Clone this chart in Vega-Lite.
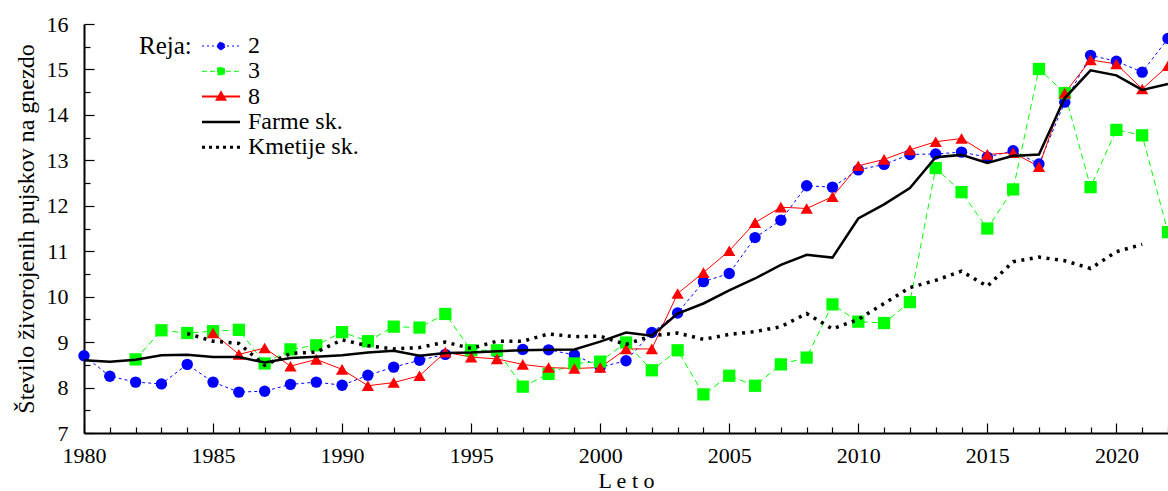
{
  "$schema": "https://vega.github.io/schema/vega-lite/v6.json",
  "width": 1084,
  "height": 409,
  "autosize": {"type": "none"},
  "padding": {"left": 84, "top": 24, "right": 0, "bottom": 58},
  "background": "white",
  "config": {
    "view": {"stroke": null},
    "font": "Liberation Serif, 'Times New Roman', Times, serif",
    "axis": {"labelFont": "Liberation Serif, 'Times New Roman', Times, serif", "titleFont": "Liberation Serif, 'Times New Roman', Times, serif"},
    "legend": {"labelFont": "Liberation Serif, 'Times New Roman', Times, serif", "titleFont": "Liberation Serif, 'Times New Roman', Times, serif"}
  },
  "datasets": {
    "s2": [
      {"year":1980,"v":8.70},{"year":1981,"v":8.25},{"year":1982,"v":8.12},{"year":1983,"v":8.08},{"year":1984,"v":8.51},
      {"year":1985,"v":8.12},{"year":1986,"v":7.90},{"year":1987,"v":7.92},{"year":1988,"v":8.07},{"year":1989,"v":8.12},
      {"year":1990,"v":8.05},{"year":1991,"v":8.27},{"year":1992,"v":8.45},{"year":1993,"v":8.60},{"year":1994,"v":8.73},
      {"year":1995,"v":8.80},{"year":1996,"v":8.78},{"year":1997,"v":8.84},{"year":1998,"v":8.83},{"year":1999,"v":8.72},
      {"year":2000,"v":8.45},{"year":2001,"v":8.59},{"year":2002,"v":9.21},{"year":2003,"v":9.64},{"year":2004,"v":10.33},
      {"year":2005,"v":10.51},{"year":2006,"v":11.30},{"year":2007,"v":11.68},{"year":2008,"v":12.44},{"year":2009,"v":12.41},
      {"year":2010,"v":12.79},{"year":2011,"v":12.91},{"year":2012,"v":13.13},{"year":2013,"v":13.14},{"year":2014,"v":13.18},
      {"year":2015,"v":13.07},{"year":2016,"v":13.21},{"year":2017,"v":12.92},{"year":2018,"v":14.28},{"year":2019,"v":15.31},
      {"year":2020,"v":15.18},{"year":2021,"v":14.94},{"year":2022,"v":15.68}
    ],
    "s3": [
      {"year":1982,"v":8.62},{"year":1983,"v":9.26},{"year":1984,"v":9.20},
      {"year":1985,"v":9.24},{"year":1986,"v":9.27},{"year":1987,"v":8.53},{"year":1988,"v":8.84},{"year":1989,"v":8.93},
      {"year":1990,"v":9.22},{"year":1991,"v":9.02},{"year":1992,"v":9.34},{"year":1993,"v":9.32},{"year":1994,"v":9.62},
      {"year":1995,"v":8.82},{"year":1996,"v":8.82},{"year":1997,"v":8.02},{"year":1998,"v":8.30},{"year":1999,"v":8.53},
      {"year":2000,"v":8.57},{"year":2001,"v":8.99},{"year":2002,"v":8.38},{"year":2003,"v":8.82},{"year":2004,"v":7.85},
      {"year":2005,"v":8.26},{"year":2006,"v":8.04},{"year":2007,"v":8.51},{"year":2008,"v":8.66},{"year":2009,"v":9.83},
      {"year":2010,"v":9.45},{"year":2011,"v":9.42},{"year":2012,"v":9.88},{"year":2013,"v":12.83},{"year":2014,"v":12.30},
      {"year":2015,"v":11.50},{"year":2016,"v":12.36},{"year":2017,"v":15.01},{"year":2018,"v":14.48},{"year":2019,"v":12.41},
      {"year":2020,"v":13.67},{"year":2021,"v":13.55},{"year":2022,"v":11.42}
    ],
    "s8": [
      {"year":1985,"v":9.20},{"year":1986,"v":8.73},{"year":1987,"v":8.87},{"year":1988,"v":8.47},{"year":1989,"v":8.62},
      {"year":1990,"v":8.40},{"year":1991,"v":8.04},{"year":1992,"v":8.11},{"year":1993,"v":8.26},{"year":1994,"v":8.78},
      {"year":1995,"v":8.67},{"year":1996,"v":8.63},{"year":1997,"v":8.51},{"year":1998,"v":8.44},{"year":1999,"v":8.42},
      {"year":2000,"v":8.44},{"year":2001,"v":8.85},{"year":2002,"v":8.85},{"year":2003,"v":10.07},{"year":2004,"v":10.53},
      {"year":2005,"v":11.01},{"year":2006,"v":11.63},{"year":2007,"v":11.97},{"year":2008,"v":11.94},{"year":2009,"v":12.20},
      {"year":2010,"v":12.88},{"year":2011,"v":13.02},{"year":2012,"v":13.23},{"year":2013,"v":13.41},{"year":2014,"v":13.48},
      {"year":2015,"v":13.13},{"year":2016,"v":13.17},{"year":2017,"v":12.86},{"year":2018,"v":14.48},{"year":2019,"v":15.21},
      {"year":2020,"v":15.12},{"year":2021,"v":14.57},{"year":2022,"v":15.08}
    ],
    "farme": [
      {"year":1980,"v":8.60},{"year":1981,"v":8.57},{"year":1982,"v":8.61},{"year":1983,"v":8.71},{"year":1984,"v":8.72},
      {"year":1985,"v":8.67},{"year":1986,"v":8.67},{"year":1987,"v":8.55},{"year":1988,"v":8.65},{"year":1989,"v":8.68},
      {"year":1990,"v":8.71},{"year":1991,"v":8.77},{"year":1992,"v":8.81},{"year":1993,"v":8.70},{"year":1994,"v":8.76},
      {"year":1995,"v":8.77},{"year":1996,"v":8.80},{"year":1997,"v":8.82},{"year":1998,"v":8.83},{"year":1999,"v":8.84},
      {"year":2000,"v":9.01},{"year":2001,"v":9.21},{"year":2002,"v":9.14},{"year":2003,"v":9.63},{"year":2004,"v":9.85},
      {"year":2005,"v":10.14},{"year":2006,"v":10.40},{"year":2007,"v":10.70},{"year":2008,"v":10.92},{"year":2009,"v":10.86},
      {"year":2010,"v":11.72},{"year":2011,"v":12.03},{"year":2012,"v":12.39},{"year":2013,"v":13.07},{"year":2014,"v":13.12},
      {"year":2015,"v":12.94},{"year":2016,"v":13.10},{"year":2017,"v":13.13},{"year":2018,"v":14.37},{"year":2019,"v":14.98},
      {"year":2020,"v":14.87},{"year":2021,"v":14.55},{"year":2022,"v":14.68}
    ],
    "kmetije": [
      {"year":1984,"v":9.19},{"year":1985,"v":9.02},{"year":1986,"v":8.97},{"year":1987,"v":8.49},{"year":1988,"v":8.75},
      {"year":1989,"v":8.78},{"year":1990,"v":9.05},{"year":1991,"v":8.92},{"year":1992,"v":8.85},{"year":1993,"v":8.88},
      {"year":1994,"v":9.00},{"year":1995,"v":8.86},{"year":1996,"v":9.02},{"year":1997,"v":9.02},{"year":1998,"v":9.18},
      {"year":1999,"v":9.12},{"year":2000,"v":9.13},{"year":2001,"v":8.95},{"year":2002,"v":9.14},{"year":2003,"v":9.20},
      {"year":2004,"v":9.06},{"year":2005,"v":9.17},{"year":2006,"v":9.23},{"year":2007,"v":9.34},{"year":2008,"v":9.63},
      {"year":2009,"v":9.29},{"year":2010,"v":9.50},{"year":2011,"v":9.85},{"year":2012,"v":10.20},{"year":2013,"v":10.36},
      {"year":2014,"v":10.56},{"year":2015,"v":10.23},{"year":2016,"v":10.77},{"year":2017,"v":10.87},{"year":2018,"v":10.79},
      {"year":2019,"v":10.62},{"year":2020,"v":10.99},{"year":2021,"v":11.15}
    ]
  },
  "encoding": {
    "x": {
      "field": "year", "type": "quantitative",
      "scale": {"domain": [1980, 2022], "nice": false, "zero": false},
      "axis": {
        "title": "L e t o", "titleFontSize": 22, "titleFontWeight": "normal", "titleColor": "black", "titlePadding": 0,
        "labelFontSize": 22, "labelColor": "black", "format": "d",
        "values": [1980,1981,1982,1983,1984,1985,1986,1987,1988,1989,1990,1991,1992,1993,1994,1995,1996,1997,1998,1999,2000,2001,2002,2003,2004,2005,2006,2007,2008,2009,2010,2011,2012,2013,2014,2015,2016,2017,2018,2019,2020,2021,2022],
        "labelExpr": "datum.value % 5 === 0 ? datum.label : ''",
        "labelFlush": false, "labelOverlap": false, "labelBound": false, "grid": false,
        "domainColor": "black", "domainWidth": 2, "tickColor": "black", "tickWidth": 1.2,
        "tickSize": {"condition": {"test": "datum.value % 5 === 0", "value": -10}, "value": -6},
        "labelPadding": 22
      }
    },
    "y": {
      "field": "v", "type": "quantitative",
      "scale": {"domain": [7, 16], "nice": false, "zero": false},
      "axis": {
        "title": "Število živorojenih pujskov na gnezdo", "titleFontSize": 24, "titleFontWeight": "normal", "titleColor": "black", "titlePadding": 8,
        "labelFontSize": 22, "labelColor": "black",
        "values": [7,7.5,8,8.5,9,9.5,10,10.5,11,11.5,12,12.5,13,13.5,14,14.5,15,15.5,16],
        "labelExpr": "datum.value % 1 === 0 ? format(datum.value, 'd') : ''",
        "labelFlush": false, "labelOverlap": false, "labelBound": false, "grid": false,
        "domainColor": "black", "domainWidth": 2, "tickColor": "black", "tickWidth": 1.2,
        "tickSize": {"condition": {"test": "datum.value % 1 === 0", "value": -10}, "value": -6},
        "labelPadding": 26
      }
    },
    "color": {
      "field": "series", "type": "nominal",
      "scale": {"domain": ["2", "3", "8", "Farme sk.", "Kmetije sk."], "range": ["#0000ff", "#00ff00", "#ff0000", "#000000", "#000000"]},
      "legend": {
        "orient": "none", "legendX": 55, "legendY": 10,
        "title": "Reja:", "titleOrient": "left", "titleAnchor": "start", "titleFontSize": 25, "titleFontWeight": "normal", "titleColor": "black", "titlePadding": 3,
        "labelFontSize": 24, "labelColor": "black", "labelOffset": 29,
        "symbolSize": 100, "rowPadding": 1.3, "padding": 0,
        "encode": {
          "symbols": {
            "update": {
              "shape": {"signal": "datum.value==='2' ? 'M-1,0H6.6M3.55,0A0.75,0.75,0,1,1,2.05,0A0.75,0.75,0,1,1,3.55,0Z' : datum.value==='3' ? 'M-1,0H6.6M2.1,-0.7H3.5V0.7H2.1Z' : datum.value==='8' ? 'M-1,0H6.6M2.8,-0.85L3.65,0.65H1.95Z' : 'M-1,0H6.6'"},
              "strokeDash": {"signal": "datum.value==='2' ? [2,3] : datum.value==='3' ? [5,3] : datum.value==='Kmetije sk.' ? [3,4] : [1,0]"},
              "strokeWidth": {"signal": "datum.value==='Farme sk.' ? 2.5 : datum.value==='Kmetije sk.' ? 3 : datum.value==='8' ? 2 : 1"},
              "fill": {"scale": "color", "field": "value"},
              "stroke": {"scale": "color", "field": "value"},
              "opacity": {"value": 1}
            }
          }
        }
      }
    }
  },
  "layer": [
    {
      "data": {"name": "s2"},
      "transform": [{"calculate": "'2'", "as": "series"}],
      "mark": {"type": "line", "strokeWidth": 1, "strokeDash": [3, 3]}
    },
    {
      "data": {"name": "s3"},
      "transform": [{"calculate": "'3'", "as": "series"}],
      "mark": {"type": "line", "strokeWidth": 1, "strokeDash": [6, 4]}
    },
    {
      "data": {"name": "s8"},
      "transform": [{"calculate": "'8'", "as": "series"}],
      "mark": {"type": "line", "strokeWidth": 1}
    },
    {
      "data": {"name": "s2"},
      "transform": [{"calculate": "'2'", "as": "series"}],
      "mark": {"type": "point", "shape": "circle", "filled": true, "size": 130, "opacity": 1}
    },
    {
      "data": {"name": "s3"},
      "transform": [{"calculate": "'3'", "as": "series"}],
      "mark": {"type": "point", "shape": "square", "filled": true, "size": 150, "opacity": 1}
    },
    {
      "data": {"name": "s8"},
      "transform": [{"calculate": "'8'", "as": "series"}],
      "mark": {"type": "point", "shape": "triangle-up", "filled": true, "size": 150, "opacity": 1}
    },
    {
      "data": {"name": "farme"},
      "transform": [{"calculate": "'Farme sk.'", "as": "series"}],
      "mark": {"type": "line", "strokeWidth": 2.5}
    },
    {
      "data": {"name": "kmetije"},
      "transform": [{"calculate": "'Kmetije sk.'", "as": "series"}],
      "mark": {"type": "line", "strokeWidth": 3.5, "strokeDash": [3, 5.5]}
    }
  ]
}
